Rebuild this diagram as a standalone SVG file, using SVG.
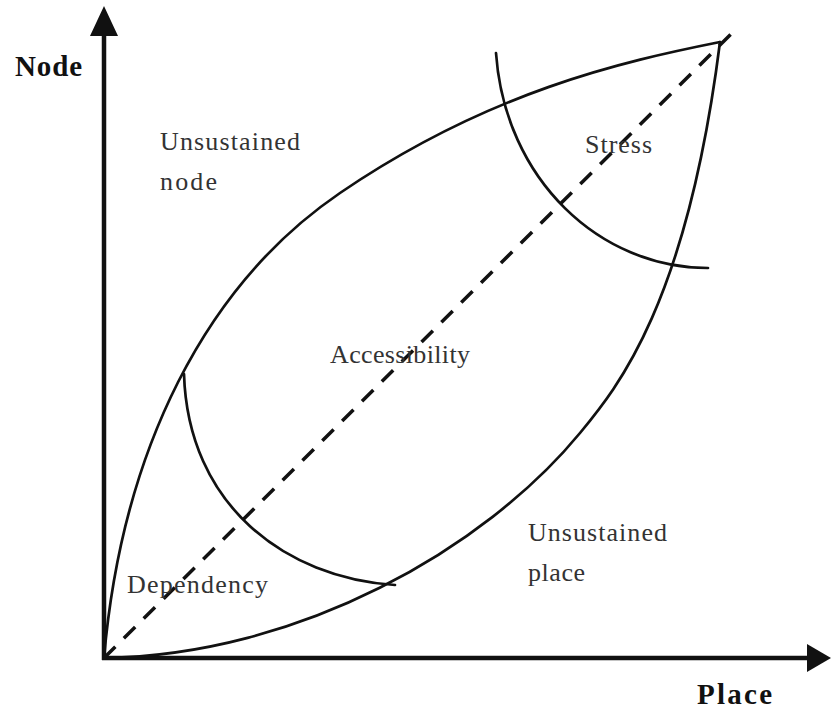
<svg xmlns="http://www.w3.org/2000/svg" width="831" height="711" viewBox="0 0 831 711">
<style>
.c{fill:none;stroke:#111;stroke-width:2.7;stroke-linecap:round}
.t{font-family:"Liberation Serif",serif;font-size:26px;fill:#333}
.b{font-family:"Liberation Serif",serif;font-size:29px;font-weight:bold;fill:#111}
</style>
<rect width="831" height="711" fill="#fff"/>
<g id="axes">
<line x1="104" y1="660" x2="104" y2="30" stroke="#111" stroke-width="4.5"/>
<polygon points="104,6 118,36 90,36" fill="#111"/>
<line x1="102" y1="658" x2="810" y2="658" stroke="#111" stroke-width="4.5"/>
<polygon points="831,658 807,644 807,672" fill="#111"/>
</g>
<g id="connectors">
<path id="upper" class="c" d="M104,658 C122,450 205,285 340,193 C488.7,91.7 622,61.6 720,42"/>
<path id="lower" class="c" d="M104,658 C300,655 484.6,548.8 580,433 C618,387 687,303 720,42"/>
<path id="dependency-arc" class="c" d="M184,374 C188,505 285,578 395,585"/>
<path id="stress-arc" class="c" d="M496,53 C505,180 600,268 708,268"/>
<line id="diagonal" x1="104" y1="658" x2="731" y2="34" stroke="#111" stroke-width="3.5" stroke-dasharray="16 12"/>
</g>
<g id="axis-labels">
<text class="b" x="15" y="76" textLength="67">Node</text>
<text class="b" x="697" y="704" textLength="75">Place</text>
</g>
<g id="unsustained-node"><text class="t" x="160" y="150" textLength="140">Unsustained</text><text class="t" x="160" y="190" textLength="57">node</text></g>
<g id="stress"><text class="t" x="585" y="153" textLength="67">Stress</text></g>
<g id="accessibility"><text class="t" x="330" y="363" textLength="140">Accessibility</text></g>
<g id="unsustained-place"><text class="t" x="528" y="541" textLength="139">Unsustained</text><text class="t" x="528" y="581" textLength="57">place</text></g>
<g id="dependency"><text class="t" x="127" y="593" textLength="141">Dependency</text></g>
</svg>
